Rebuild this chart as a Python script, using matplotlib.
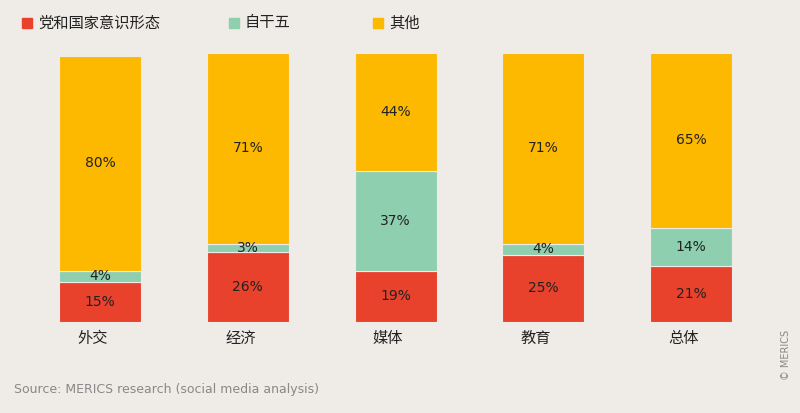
import matplotlib
matplotlib.use("Agg")
import matplotlib.pyplot as plt
import numpy as np

plt.rcParams['font.family'] = ['Noto Sans CJK SC', 'DejaVu Sans']

categories = ["外交", "经济", "媒体", "教育", "总体"]
party = [15, 26, 19, 25, 21]
xi = [4, 3, 37, 4, 14]
other = [80, 71, 44, 71, 65]
series_names = ["党和国家意识形态", "自干五", "其他"]
colors = ["#e8412c", "#8ecfb0", "#fdb900"]
bg = "#efebe7"

fig = plt.figure(figsize=(8, 4.13), dpi=100, facecolor=bg)
ax = fig.add_axes([0.0325, 0.2203, 0.924, 0.6514], facecolor=bg)
x = np.arange(len(categories))
bottom = np.zeros(len(categories))
for vals, c in zip([party, xi, other], colors):
    vals = np.array(vals, dtype=float)
    ax.bar(x, vals, bottom=bottom, width=0.555, color=c, edgecolor=bg, linewidth=0.8)
    for xi_, b, v in zip(x, bottom, vals):
        ax.text(xi_, b + v / 2, f"{int(v)}%", ha="center", va="center", fontsize=10,
                color="#222222", family="DejaVu Sans")
    bottom += vals
ax.set_xlim(-0.5, 4.5)
ax.set_ylim(0, 100)
ax.set_xticks(x - 0.05)
ax.set_xticklabels(categories, fontsize=11, color="#222222")
ax.tick_params(axis="x", length=0, pad=6)
ax.set_yticks([])
for s in ax.spines.values():
    s.set_visible(False)

# legend
lx = [22, 229, 373]
for px, name, c in zip(lx, series_names, colors):
    fig.patches.append(plt.Rectangle((px / 800, 1 - 28 / 413), 10 / 800, 10 / 413,
                                     transform=fig.transFigure, color=c))
    fig.text((px + 16) / 800, 1 - 23 / 413, name, fontsize=11, va="center", color="#222222")

fig.text(14 / 800, 1 - 390 / 413, "Source: MERICS research (social media analysis)",
         fontsize=9, color="#888888", va="center", family="DejaVu Sans")
fig.text(786 / 800, 1 - 355 / 413, "© MERICS", fontsize=7, color="#888888",
         rotation=90, ha="center", va="center", family="DejaVu Sans")

fig.savefig("out.png", dpi=100, facecolor=bg)
